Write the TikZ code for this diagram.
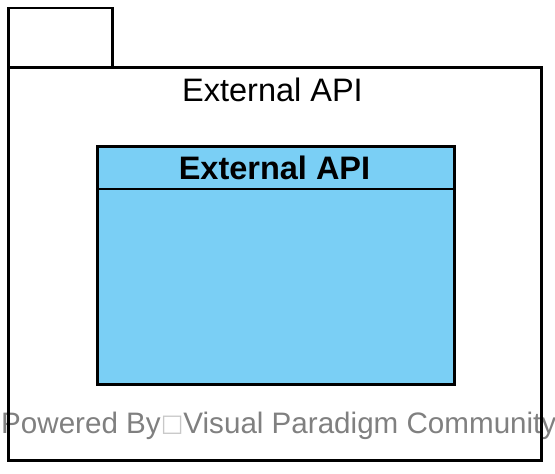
\documentclass[tikz,border=0pt]{standalone}
\usepackage{fontspec}
\setmainfont{Liberation Sans}
\newfontfamily\symfont{DejaVu Sans}
\usepackage{xcolor}
\usetikzlibrary{positioning}
\definecolor{classblue}{RGB}{122,207,245}
\definecolor{wmgray}{RGB}{128,128,128}
\definecolor{boxgray}{RGB}{200,200,200}

\begin{document}
\begin{tikzpicture}[
    x=1pt, y=-1pt,
    pkg/.style ={rectangle, draw, line width=2.7pt, inner sep=0pt, anchor=north west},
    cls/.style ={pkg, fill=classblue},
    lbl/.style ={inner sep=0pt, anchor=base, font=\fontsize{32.5}{32.5}\selectfont},
    wm/.style  ={inner sep=0pt, anchor=base west, text=wmgray, font=\fontsize{29.6}{29.6}\selectfont}
]
  \useasboundingbox (0,0) rectangle (555,474);

  % watermark sits under the frame
  \node[wm] (powered) at (1,433) {Powered By\raisebox{2pt}{\symfont\color{boxgray}\fontsize{24}{24}\selectfont □}Visual Paradigm Community};

  % package
  \node[pkg, minimum width=104pt, minimum height=59.5pt] (tab)  at (7,6.5) {};
  \node[pkg, minimum width=533pt, minimum height=393pt]  (body) at (7,66)  {};
  \node[lbl] (pkgname) at (272.5,101) {External API};

  % class
  \node[cls, minimum width=357pt, minimum height=238pt] (api) at (96,145) {};
  \coordinate (hdrL) at (96,189);
  \coordinate (hdrR) at (453,189);
  \draw[line width=2.7pt] (hdrL) -- (hdrR);
  \node[lbl, font=\fontsize{32.5}{32.5}\selectfont\bfseries] (apiname) at (274.5,179.3) {External API};
\end{tikzpicture}
\end{document}
